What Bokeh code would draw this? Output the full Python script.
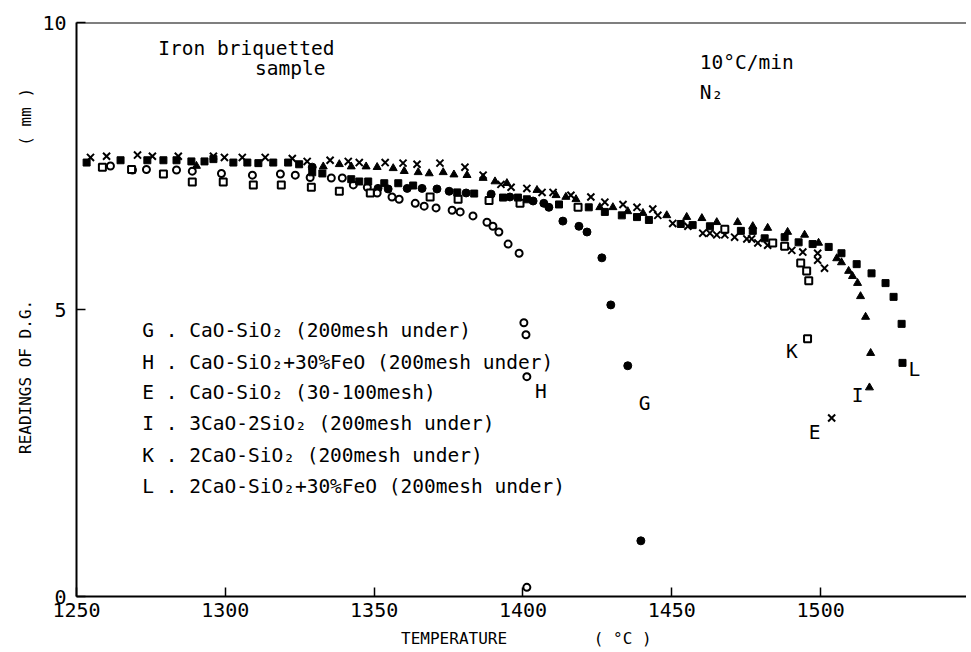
from bokeh.plotting import figure
from bokeh.models import Span, Label, FixedTicker
from bokeh.embed import file_html
from bokeh.resources import INLINE

# ---- data (temperature degC, reading mm) ----
G_t = [1329.2, 1351.3, 1354.7, 1361.1, 1366.1, 1371.1, 1375.2, 1380.9, 1389.3, 1395.6, 1403.4, 1407.0,
       1408.7, 1413.4, 1418.8, 1421.5, 1426.5, 1429.5, 1435.2, 1439.6]
G_v = [7.48, 7.11, 7.10, 7.11, 7.11, 7.10, 7.06, 7.03, 7.01, 6.96, 6.89, 6.85,
       6.78, 6.54, 6.45, 6.35, 5.90, 5.08, 4.02, 0.97]

H_t = [1261.4, 1268.8, 1273.5, 1283.6, 1288.9, 1298.7, 1309.1, 1318.5, 1323.5, 1328.5, 1335.6, 1339.3,
       1343.0, 1347.7, 1351.0, 1356.0, 1358.4, 1363.8, 1366.8, 1370.8, 1376.2, 1378.9, 1383.2, 1387.9,
       1389.9, 1391.9, 1395.0, 1398.7, 1400.3, 1401.0, 1401.3, 1401.3]
H_v = [7.50, 7.43, 7.44, 7.43, 7.41, 7.37, 7.34, 7.36, 7.34, 7.30, 7.29, 7.29,
       7.17, 7.13, 7.03, 6.96, 6.92, 6.85, 6.80, 6.77, 6.73, 6.70, 6.63, 6.52,
       6.45, 6.35, 6.14, 5.98, 4.77, 4.56, 3.83, 0.16]

E_t = [1254.7, 1260.1, 1270.5, 1275.5, 1284.2, 1296.0, 1299.7, 1305.7, 1313.4, 1322.5, 1327.5, 1335.2,
       1341.3, 1345.0, 1353.7, 1359.7, 1364.4, 1372.1, 1380.5, 1386.6, 1392.6, 1396.0, 1401.3, 1406.4,
       1410.1, 1416.1, 1422.8, 1427.5, 1433.6, 1438.3, 1443.6, 1445.3, 1450.3, 1455.4, 1460.4, 1462.8,
       1465.1, 1467.8, 1471.1, 1475.2, 1476.8, 1478.9, 1482.2, 1490.3, 1494.0, 1499.0, 1499.0, 1501.3,
       1503.7]
E_v = [7.65, 7.67, 7.69, 7.67, 7.67, 7.67, 7.65, 7.65, 7.65, 7.63, 7.58, 7.60,
       7.58, 7.56, 7.56, 7.55, 7.53, 7.55, 7.48, 7.34, 7.18, 7.13, 7.11, 7.04,
       7.04, 6.99, 6.96, 6.87, 6.83, 6.78, 6.75, 6.64, 6.50, 6.45, 6.33, 6.33,
       6.30, 6.30, 6.26, 6.23, 6.23, 6.16, 6.12, 6.03, 6.00, 5.98, 5.86, 5.72,
       3.11]

I_t = [1290.3, 1332.9, 1338.3, 1342.3, 1347.3, 1351.0, 1356.4, 1360.1, 1364.8, 1368.5, 1373.2, 1376.8,
       1381.2, 1386.6, 1390.6, 1394.6, 1404.7, 1411.1, 1414.4, 1417.8, 1425.8, 1430.2, 1435.2, 1440.3,
       1448.3, 1455.0, 1460.1, 1465.1, 1472.1, 1477.2, 1482.2, 1488.9, 1494.6, 1499.3, 1505.4, 1507.0,
       1509.4, 1510.7, 1512.4, 1513.4, 1515.1, 1516.8, 1516.4]
I_v = [7.50, 7.49, 7.53, 7.49, 7.49, 7.48, 7.46, 7.41, 7.39, 7.37, 7.39, 7.35,
       7.34, 7.29, 7.23, 7.20, 7.08, 6.99, 6.96, 6.92, 6.78, 6.78, 6.71, 6.68,
       6.64, 6.61, 6.59, 6.52, 6.52, 6.45, 6.42, 6.35, 6.30, 6.16, 5.89, 5.82,
       5.67, 5.58, 5.46, 5.23, 4.87, 4.24, 3.64]

K_t = [1258.7, 1268.5, 1279.2, 1288.9, 1299.3, 1309.4, 1318.8, 1328.9, 1338.3, 1348.7, 1368.8, 1378.2,
       1388.6, 1399.0, 1418.5, 1467.8, 1483.9, 1487.9, 1493.3, 1495.3, 1496.0, 1495.6]
K_v = [7.48, 7.44, 7.36, 7.22, 7.22, 7.17, 7.17, 7.13, 7.06, 7.03, 6.96, 6.92,
       6.90, 6.85, 6.78, 6.40, 6.16, 6.10, 5.81, 5.67, 5.50, 4.49]

L_t = [1253.4, 1264.8, 1273.8, 1279.2, 1283.6, 1288.6, 1293.0, 1296.0, 1302.7, 1307.4, 1311.1, 1316.1,
       1321.1, 1324.8, 1329.2, 1332.6, 1342.3, 1345.0, 1348.0, 1353.4, 1358.1, 1363.1, 1377.9, 1383.6,
       1393.3, 1398.3, 1401.3, 1412.1, 1422.1, 1427.5, 1433.2, 1438.3, 1442.3, 1453.0, 1457.0, 1462.8,
       1473.2, 1477.2, 1481.2, 1487.9, 1492.6, 1497.3, 1502.7, 1507.0, 1512.1, 1517.1, 1521.8, 1524.5,
       1527.2, 1527.5]
L_v = [7.56, 7.60, 7.60, 7.60, 7.60, 7.58, 7.58, 7.62, 7.56, 7.56, 7.55, 7.56,
       7.56, 7.53, 7.39, 7.37, 7.27, 7.23, 7.23, 7.20, 7.20, 7.16, 7.04, 7.02,
       6.95, 6.95, 6.92, 6.83, 6.78, 6.70, 6.64, 6.61, 6.56, 6.49, 6.47, 6.45,
       6.37, 6.37, 6.24, 6.26, 6.17, 6.14, 6.09, 5.98, 5.79, 5.63, 5.46, 5.22,
       4.75, 4.07]

x_ticks = [1250, 1300, 1350, 1400, 1450, 1500]
y_ticks = [0, 5, 10]

legend_lines = [
    "G . CaO-SiO\u2082 (200mesh under)",
    "H . CaO-SiO\u2082+30%FeO (200mesh under)",
    "E . CaO-SiO\u2082 (30-100mesh)",
    "I . 3CaO-2SiO\u2082 (200mesh under)",
    "K . 2CaO-SiO\u2082 (200mesh under)",
    "L . 2CaO-SiO\u2082+30%FeO (200mesh under)",
]

FONT = "DejaVu Sans Mono"
FS = "19.5px"
NB = "\u00a0"

p = figure(width=966, height=650, x_range=(1250, 1549), y_range=(0, 10),
           output_backend="svg", toolbar_location=None,
           min_border_left=76, min_border_top=22, min_border_bottom=53, min_border_right=0)
p.outline_line_color = None
p.xgrid.visible = False
p.ygrid.visible = False
p.background_fill_color = "white"
p.border_fill_color = "white"

for ax in (p.xaxis[0], p.yaxis[0]):
    ax.axis_line_width = 2
    ax.axis_line_color = "black"
    ax.major_tick_in = 9
    ax.major_tick_out = 0
    ax.major_tick_line_width = 1.5
    ax.minor_tick_line_color = None
    ax.major_label_text_font = FONT
    ax.major_label_text_font_size = "20px"
    ax.major_label_text_color = "black"
    ax.axis_label_text_font = FONT
    ax.axis_label_text_font_size = "16px"
    ax.axis_label_text_font_style = "normal"
    ax.axis_label_text_color = "black"

p.xaxis[0].ticker = FixedTicker(ticks=x_ticks)
p.yaxis[0].ticker = FixedTicker(ticks=y_ticks)
p.xaxis[0].major_label_standoff = 6
p.yaxis[0].major_label_standoff = 10
p.xaxis[0].axis_label = NB * 1 + "TEMPERATURE" + NB * 9 + "( \u00b0C )"
p.yaxis[0].axis_label = NB * 8 + "READINGS OF D.G." + NB * 16 + "( mm )"
p.xaxis[0].axis_label_standoff = 9
p.yaxis[0].axis_label_standoff = 4

p.add_layout(Span(location=10, dimension="width", line_color="black", line_width=2))

# markers
p.scatter(G_t, G_v, marker="circle", size=8, color="black")
p.scatter(H_t, H_v, marker="circle", size=7, fill_color="white", line_color="black", line_width=2)
p.scatter(E_t, E_v, marker="x", size=10, line_color="black", line_width=2)
p.scatter(I_t, I_v, marker="triangle", size=8, color="black")
p.scatter(K_t, K_v, marker="square", size=7, fill_color="white", line_color="black", line_width=2)
p.scatter(L_t, L_v, marker="square", size=7, color="black")

def lab(x, y, t, align="left", size=FS):
    p.add_layout(Label(x=x, y=y, text=t, text_font=FONT, text_font_size=size,
                       text_align=align, text_baseline="middle", text_color="black"))

# series tags
lab(1406.0, 3.57, "H", "center")
lab(1440.9, 3.36, "G", "center")
lab(1490.3, 4.26, "K", "center")
lab(1498.0, 2.85, "E", "center")
lab(1512.4, 3.51, "I", "center")
lab(1531.5, 3.95, "L", "center")

# annotations
lab(1277.5, 9.55, "Iron briquetted")
lab(1310.0, 9.20, "sample")
lab(1459.4, 9.30, "10\u00b0C/min")
lab(1459.4, 8.78, "N\u2082")

legend_y = [4.63, 4.07, 3.55, 3.01, 2.45, 1.91]
for yy, t in zip(legend_y, legend_lines):
    lab(1272.1, yy, t)

open("out.html", "w").write(file_html(p, INLINE))
